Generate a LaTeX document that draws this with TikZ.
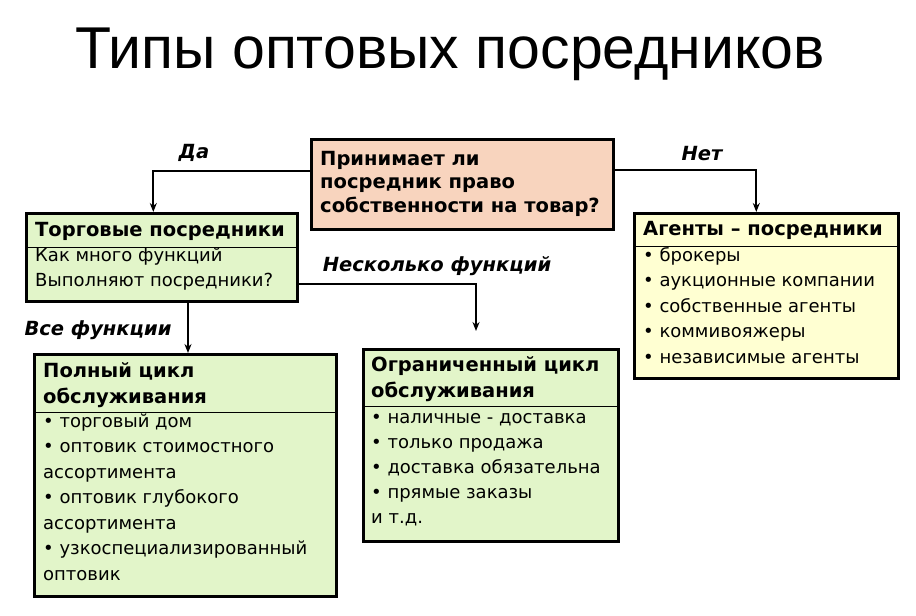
\documentclass[tikz,border=0pt]{standalone}
\usepackage{fontspec}
\setmainfont{DejaVu Sans}
\newfontfamily\titlefont{Liberation Sans}
\usepackage{xcolor}
\usepackage{tikz}
\usetikzlibrary{calc,positioning,arrows.meta}

\definecolor{peach}{HTML}{F8D4BE}
\definecolor{lgreen}{HTML}{E2F5C9}
\definecolor{lyellow}{HTML}{FFFFD2}

\begin{document}
\begin{tikzpicture}[
        x=1pt, y=-1pt,
        box/.style={draw, line width=2.6pt, inner sep=0pt, anchor=north west},
        head/.style={anchor=base west, inner sep=0pt, align=left,
            font=\bfseries\fontsize{19.5}{25.5}\selectfont},
        body/.style={anchor=base west, inner sep=0pt, align=left,
            font=\fontsize{18}{25.5}\selectfont},
        lab/.style={anchor=base, font=\bfseries\itshape\fontsize{19.5}{20}\selectfont},
        sep/.style={line width=0.8pt},
        arr/.style={line width=2pt, -{Stealth[length=9pt,width=7pt]}}
    ]
        \useasboundingbox[fill=white] (0,0) rectangle (916,616);

        \node[font=\titlefont\fontsize{59}{66}\selectfont, anchor=base]
            (title) at (450,68) {Типы оптовых посредников};

        % question (base = last line)
        \node[box, fill=peach, minimum width=302pt, minimum height=90pt]
            (quest) at (310,138) {};
        \node[head, font=\bfseries\fontsize{19.5}{23.5}\selectfont]
            (questtx) at (320,212) {Принимает ли\\посредник право\\собственности на товар?};

        % trading intermediaries
        \node[box, fill=lgreen, minimum width=271pt, minimum height=88pt]
            (trade) at (25,212) {};
        \node[head] (tradehd) at (35,236) {Торговые посредники};
        \draw[sep] (trade.west |- 0,247) -- (trade.east |- 0,247);
        \node[body, font=\fontsize{18}{25}\selectfont] (tradebd) at (35,286)
            {Как много функций\\Выполняют посредники?};

        % agents
        \node[box, fill=lyellow, minimum width=264pt, minimum height=165pt]
            (agent) at (633,212) {};
        \node[head] (agenthd) at (643,235) {Агенты – посредники};
        \draw[sep] (agent.west |- 0,246) -- (agent.east |- 0,246);
        \node[body] (agentbd) at (643,363)
            {• брокеры\\• аукционные компании\\• собственные агенты\\• коммивояжеры\\• независимые агенты};

        % full cycle
        \node[box, fill=lgreen, minimum width=302pt, minimum height=242pt]
            (full) at (33,353) {};
        \node[head] (fullhd) at (43,403) {Полный цикл\\обслуживания};
        \draw[sep] (full.west |- 0,412) -- (full.east |- 0,412);
        \node[body] (fullbd) at (43,580)
            {• торговый дом\\• оптовик стоимостного\\ассортимента\\• оптовик глубокого\\ассортимента\\• узкоспециализированный\\оптовик};

        % limited cycle
        \node[box, fill=lgreen, minimum width=255pt, minimum height=192pt]
            (limit) at (362,348) {};
        \node[head] (limiths) at (371,397) {Ограниченный цикл\\обслуживания};
        \draw[sep] (limit.west |- 0,406) -- (limit.east |- 0,406);
        \node[body, font=\fontsize{18}{25}\selectfont] (limitbd) at (371,523)
            {• наличные - доставка\\• только продажа\\• доставка обязательна\\• прямые заказы\\и т.д.};

        % connectors
        \coordinate (limitin) at (476,331);
        \draw[arr] (quest.west |- 0,171) -| ([xshift=-8.5pt]trade.north);
        \draw[arr] (quest.east |- 0,170) -| ([xshift=-10pt]agent.north);
        \draw[arr] (trade.south -| 188,0) -- (full.north -| 188,0);
        \draw[arr] (trade.east |- 0,284) -| (limitin);

        \node[lab] (yes) at (194,158) {Да};
        \node[lab] (no) at (702,160) {Нет};
        \node[lab] (all) at (98,335) {Все функции};
        \node[lab] (some) at (437,271) {Несколько функций};
    \end{tikzpicture}
\end{document}
